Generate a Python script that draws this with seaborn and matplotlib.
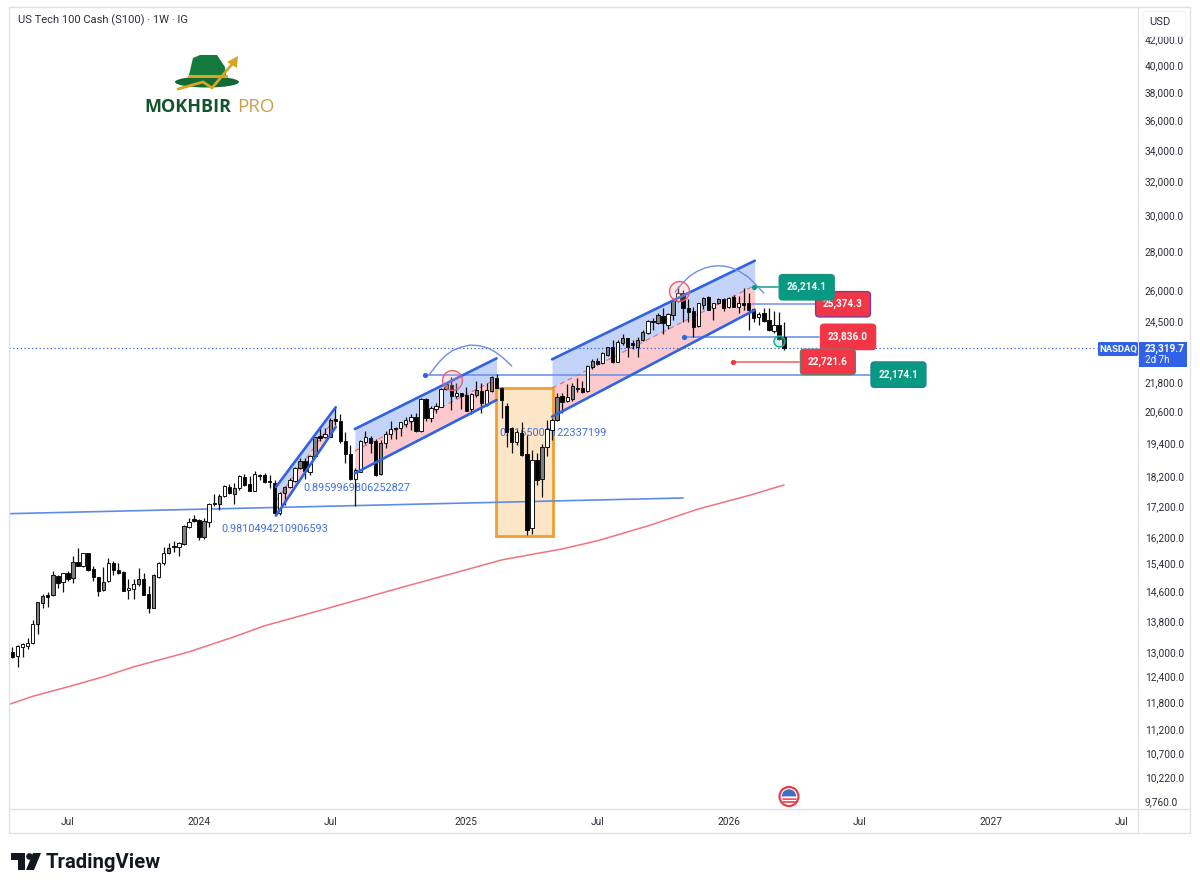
import numpy as np
import matplotlib
matplotlib.use("Agg")
import matplotlib.pyplot as plt
import seaborn as sns
from matplotlib.lines import Line2D
from matplotlib.patches import Circle, Ellipse, FancyBboxPatch, Polygon, Rectangle, Wedge
from matplotlib.transforms import Affine2D, ScaledTranslation

# weekly candles, one per week from mid April 2023
opens = [13045, 12938, 13163, 13188, 13256, 13747, 14311, 14541, 14541, 15080,
         14899, 15157, 15013, 15497, 15370, 15750, 15282, 15042, 14680, 14936,
         15451, 15253, 15204, 14680, 14708, 14842, 14984, 14560, 14191, 15060,
         15451, 15750, 15971, 15931, 16023, 16553, 16818, 16786, 16239, 16732,
         17341, 17308, 17576, 17871, 17633, 17857, 18216, 17974, 17755, 18286,
         18297, 18087, 18008, 17002, 17665, 17871, 18087, 18532, 18793, 18412,
         18974, 19713, 19686, 19686, 20355, 20301, 19538, 19033, 18147, 18412,
         19478, 19651, 19527, 18322, 19441, 19780, 20031, 20008, 20160, 20289,
         20459, 19916, 21162, 20419, 20761, 20853, 21571, 21738, 21285, 21394,
         21326, 20749, 21326, 21489, 20921, 21489, 22043, 21634, 20881, 20008,
         19501, 19817, 19047, 16521, 18829, 18147, 19293, 19943, 20328, 21285,
         21094, 21150, 21626, 21626, 21489, 22487, 22760, 22660, 23023, 23365,
         22730, 23545, 23771, 23545, 23392, 23694, 24001, 24572, 24465, 24809,
         24385, 24857, 25545, 25909, 25205, 25061, 24338, 25337, 25716, 25177,
         25418, 25630, 25226, 25748, 25255, 25418, 25418, 25129, 24748, 24937,
         24619, 24119, 24385, 23845]
highs = [13163, 13213, 13264, 13399, 13860, 14355, 14560, 14633, 15224, 15108,
         15175, 15233, 15677, 15901, 15768, 15768, 15370, 15060, 15332, 15600,
         15518, 15468, 15224, 14984, 14984, 15303, 15175, 14793, 15128, 15497,
         15931, 16072, 16124, 16102, 16626, 16840, 16948, 16818, 16840, 17331,
         17633, 17643, 17939, 17984, 18029, 18297, 18332, 18272, 18437, 18332,
         18356, 18297, 18122, 17720, 17915, 18181, 18589, 18889, 18889, 19010,
         19686, 20008, 20008, 20395, 20789, 20563, 19879, 19378, 18532, 19564,
         19905, 19728, 19602, 19564, 19905, 20289, 20069, 20261, 20459, 20552,
         20591, 21190, 21190, 20893, 20988, 21626, 21875, 22086, 21808, 21420,
         21668, 21394, 21904, 21808, 21808, 22115, 22187, 21668, 21000, 20069,
         19943, 20261, 19753, 19193, 19071, 19415, 20328, 20395, 21394, 21394,
         21768, 21834, 22018, 21917, 22586, 22846, 22877, 23142, 23392, 23694,
         23694, 23968, 23799, 23694, 23817, 24152, 24619, 24700, 24966, 25177,
         24952, 25664, 26252, 26075, 25615, 25255, 25448, 25748, 25783, 25448,
         25698, 25664, 25733, 25825, 25790, 26200, 25909, 25177, 25015, 25205,
         25177, 25048, 24986, 24539]
lows = [12888, 12668, 12920, 13105, 13239, 13494, 14174, 14201, 14521, 14745,
        14633, 14944, 14888, 15378, 15350, 15224, 14944, 14521, 14660, 14916,
        15108, 15137, 14660, 14421, 14421, 14802, 14541, 14039, 14174, 15031,
        15400, 15729, 15798, 15669, 16002, 16531, 16732, 16155, 16177, 16553,
        17242, 17110, 17552, 17643, 17308, 17778, 17915, 17755, 17734, 18122,
        18008, 17836, 16948, 16948, 17275, 17847, 18063, 18508, 18147, 18297,
        18950, 19538, 19627, 19664, 20135, 19463, 18711, 18122, 17242, 18391,
        19404, 19071, 18272, 18297, 19278, 19602, 19602, 19713, 20069, 19943,
        19856, 19879, 20301, 20261, 20591, 20829, 21530, 20721, 21190, 20749,
        20670, 20552, 21257, 20615, 20893, 21461, 21600, 20395, 19304, 19093,
        19378, 18974, 16311, 16342, 17950, 17552, 18974, 19564, 20301, 20615,
        21054, 21094, 21436, 21394, 21461, 22400, 22586, 22630, 22993, 22660,
        22703, 23469, 22949, 23275, 22949, 23662, 23968, 24152, 24418, 23968,
        24199, 24619, 25496, 24539, 24539, 23845, 24305, 25129, 25095, 24619,
        25385, 25061, 25177, 25226, 24935, 25095, 24152, 24539, 24385, 24539,
        24119, 23995, 23694, 23244]
closes = [12920, 13188, 13226, 13256, 13747, 14339, 14521, 14493, 15108, 14870,
          15157, 14984, 15497, 15378, 15750, 15253, 15042, 14660, 14916, 15451,
          15253, 15157, 14660, 14745, 14842, 14984, 14541, 14174, 15108, 15451,
          15750, 15901, 15931, 16053, 16595, 16732, 16764, 16258, 16764, 17308,
          17292, 17576, 17915, 17687, 17857, 18272, 17950, 17755, 18332, 18251,
          18043, 18043, 17022, 17687, 17891, 18122, 18532, 18793, 18447, 18974,
          19664, 19627, 19780, 20328, 20301, 19538, 19033, 18147, 18472, 19527,
          19686, 19463, 18297, 19463, 19780, 19981, 19981, 20238, 20328, 20459,
          19905, 21150, 20395, 20813, 20893, 21571, 21768, 21297, 21394, 21285,
          20693, 21353, 21530, 20988, 21530, 22086, 21625, 21122, 19867, 19501,
          19879, 19010, 16467, 18829, 18122, 19315, 19970, 20328, 21257, 21054,
          21232, 21697, 21571, 21461, 22556, 22773, 22630, 23098, 23365, 22703,
          23617, 23771, 23365, 23469, 23694, 24074, 24572, 24512, 24857, 24465,
          24904, 25580, 25940, 25177, 25015, 24305, 25418, 25698, 25095, 25418,
          25615, 25177, 25664, 25255, 25418, 25337, 25095, 24700, 24890, 24586,
          24152, 24385, 23740, 23319.7]
grey_weeks = [5, 6, 8, 12, 18, 25, 28, 31, 34, 38, 41, 44, 54, 57, 60, 63, 73, 86,
              92, 95, 105, 108, 111, 115, 118, 121, 124, 125, 128, 131, 137, 140]

# red moving average
ma_weeks = [-1, 4, 11, 18, 24, 35, 44, 50, 63, 77, 90, 97, 109, 116, 126, 136, 146, 153]
ma_values = [11778, 11974, 12193, 12430, 12668, 13038, 13420, 13706, 14191, 14745, 15260,
             15548, 15880, 16130, 16595, 17143, 17590, 17950]

# axis ticks
x_ticks = [11, 37, 63, 90, 116, 142, 168, 194, 220]
x_labels = ["Jul", "2024", "Jul", "2025", "Jul", "2026", "Jul", "2027", "Jul"]
y_ticks = [42000, 40000, 38000, 36000, 34000, 32000, 30000, 28000, 26000, 24500,
           21800, 20600, 19400, 18200, 17200, 16200, 15400, 14600, 13800, 13000,
           12400, 11800, 11200, 10700, 10220, 9760]

# drawings on the chart
long_line_weeks = [-0.5, 133]
long_line_prices = [16990, 17508]
channel_weeks = [[52.25, 64.1], [67.9, 96.0], [107, 147.2]]
channel_upper = [[17881, 20829], [19981, 22877], [22834, 27580]]
channel_mid = [[17408, 20446], [19156, 21988], [21612, 26300]]
channel_lower = [[16925, 20058], [18356, 21122], [20457, 25095]]
box_weeks = [95.9, 107.1]
box_prices = [16280, 21600]
arc1_weeks = [82.6, 83.7, 84.8, 85.9, 87.1, 88.9, 90.7, 92.5, 94.3, 95.7, 97.1, 98.0, 99.0]
arc1_prices = [22158, 22470, 22760, 23000, 23200, 23370, 23465, 23440, 23333, 23160,
               22935, 22750, 22543]
arc2_weeks = [131.4, 132.8, 134.3, 135.8, 137.3, 138.6, 139.9, 141.3, 142.7, 144.3,
              145.9, 147.4, 149.0]
arc2_prices = [25975, 26400, 26784, 27030, 27197, 27285, 27317, 27290, 27197, 27000,
               26732, 26350, 25925]
level_prices = [26214.1, 25374.3, 23836.0, 22721.6, 22174.1]
level_starts = [147.1, 146.6, 133.1, 142.9, 81.9]
level_ends = [151.9, 159.1, 159.9, 156, 170]
level_label_weeks = [157.5, 164.7, 165.7, 161.7, 175.7]
level_colors = ["#089981", "#f23645", "#f23645", "#f23645", "#089981"]
level_edges = ["#1f8f80", "#7d3c98", "#f23645", "#6b7b70", "#1f7fa0"]
level_lines = ["#26a69a", "#7f9ae8", "#6f93e8", "#ef6b6b", "#6f93e8"]
circle_weeks = [87.1, 132.1, 152]
circle_prices = [21946, 26040, 23660]
ratio_texts = ["0.9810494210906593", "0.8959969806252827", "0.1165003122337199"]
ratio_weeks = [41.5, 57.6, 96.5]
ratio_prices = [16498, 17846, 19828]

BLUE = "#2f62e6"

sns.set_theme(style="white")
plt.rcParams["font.family"] = "Roboto"

fig = plt.figure(figsize=(12, 8.9), dpi=100, facecolor="white")
ax = fig.add_axes([9 / 1200, 81 / 890, 1129 / 1200, 802 / 890])
ax.set_yscale("log")
px = Affine2D().scale(1, -1).translate(0, 890)

weeks = np.arange(len(closes))
o = np.array(opens, dtype=float)
c = np.array(closes, dtype=float)

# channels and box sit under the candles
for wk, up, mid, lo in zip(channel_weeks, channel_upper, channel_mid, channel_lower):
    ax.fill_between(wk, mid, up, color="#c3d3fa", lw=0, zorder=1)
    ax.fill_between(wk, lo, mid, color="#fcc9cd", lw=0, zorder=1)
    ax.plot(wk, mid, color="#e8707c", lw=0.9, ls=(0, (4, 3)), zorder=2)
    ax.plot(wk, up, color=BLUE, lw=1.9, zorder=5)
    ax.plot(wk, lo, color=BLUE, lw=1.9, zorder=5)

ax.add_patch(Rectangle((box_weeks[0], box_prices[0]), box_weeks[1] - box_weeks[0],
                       box_prices[1] - box_prices[0], fc="#fde6c8", ec="#f0a030",
                       lw=2, zorder=1.5))

for s, wk, pr in zip(ratio_texts, ratio_weeks, ratio_prices):
    ax.text(wk, pr, s, color="#3f6fe0", fontsize=7.8, va="center", ha="left", zorder=2.5)

# candles
colors = np.where(c >= o, "white", "black").astype(object)
colors[grey_weeks] = "#7d7d7d"
ax.vlines(weeks, lows, highs, color="#111111", lw=0.9, zorder=3)
ax.bar(weeks, np.abs(c - o), bottom=np.minimum(o, c), width=0.66, color=list(colors),
       edgecolor="#111111", lw=0.7, zorder=4)

sns.lineplot(x=ma_weeks, y=ma_values, color="#ee7480", lw=1.1, ax=ax, zorder=2)

ax.plot(long_line_weeks, long_line_prices, color="#5f8be8", lw=1.2, zorder=2.6)
ax.plot(arc1_weeks, arc1_prices, color="#6f8fe0", lw=1.0, zorder=5)
ax.plot(arc2_weeks, arc2_prices, color="#6f8fe0", lw=1.0, zorder=5)

ax.axhline(closes[-1], xmax=(1097 - 9) / 1129, color=BLUE, lw=0.9, ls=(0, (1, 2)), zorder=2)

for i, price in enumerate(level_prices):
    ax.plot([level_starts[i], level_ends[i]], [price, price], color=level_lines[i],
            lw=1.2, zorder=2.7)
    ax.text(level_label_weeks[i], price, f"{price:,.1f}", color="white", fontsize=7.2,
            fontweight="bold", ha="center", va="center", zorder=9 if i == 0 else 8,
            bbox=dict(boxstyle="round,pad=0.75,rounding_size=0.35", fc=level_colors[i],
                      ec=level_edges[i], lw=1.0))
dot_colors = {0: "#089981", 2: BLUE, 3: "#f23645", 4: BLUE}
for i, col in dot_colors.items():
    ax.scatter(level_starts[i], level_prices[i], s=14, color=col, lw=0, zorder=7)

ax.scatter(circle_weeks[:2], circle_prices[:2], s=205, facecolor="#f7a0aa44",
           edgecolor="#e5606e", lw=1.0, zorder=6)
ax.scatter(circle_weeks[2], circle_prices[2], s=62, facecolor="#7fd8c855",
           edgecolor="#22ab94", lw=1.1, zorder=6)

ax.set_xlim(-0.694, 223.2)
ax.set_ylim(9649, 44842)
ax.set_xticks(x_ticks, x_labels)
ax.set_yticks(y_ticks, [f"{v:,.1f}" for v in y_ticks])
ax.minorticks_off()
ax.yaxis.tick_right()
ax.tick_params(axis="both", length=0, colors="#2a2e39", labelsize=7.3)
ax.tick_params(axis="x", pad=6)
ax.tick_params(axis="y", pad=5)
ax.set_xlabel("")
ax.set_ylabel("")
for sp in ax.spines.values():
    sp.set_visible(False)
# price labels sit a little above their level
nudge = ScaledTranslation(0, 1.5 / 100, fig.dpi_scale_trans)
for lab in ax.get_yticklabels():
    lab.set_transform(lab.get_transform() + nudge)


def add_px(artist):
    artist.set_transform(px)
    fig.add_artist(artist)


# panel frame
frame = "#e0e3eb"
for xs, ys in [([9, 1190], [7, 7]), ([9, 1190], [833, 833]), ([9, 9], [7, 833]),
               ([1190, 1190], [7, 833]), ([9, 1190], [809, 809]), ([1138, 1138], [7, 833])]:
    add_px(Line2D(xs, ys, color=frame, lw=1.0))

fig.text(18, 20, "US Tech 100 Cash (S100) · 1W · IG", transform=px, fontsize=8.0,
         color="#2a2e39", va="center")

# USD button covers the top tick
add_px(FancyBboxPatch((1143, 11), 43, 25.5, boxstyle="round,pad=0,rounding_size=3",
                      fc="white", ec="#f0f1f4", lw=0.8, zorder=6))
fig.text(1160, 22, "USD", transform=px, fontsize=8, color="#2a2e39", ha="center",
         va="center", zorder=7)

# last price tags
add_px(FancyBboxPatch((1098, 342), 40, 14, boxstyle="round,pad=0,rounding_size=1.5",
                      fc=BLUE, ec="none", zorder=6))
fig.text(1118, 349, "NASDAQ", transform=px, fontsize=6.8, fontweight="bold", color="white",
         ha="center", va="center", zorder=7)
add_px(Rectangle((1139, 342), 48, 25, fc=BLUE, ec="none", zorder=6))
fig.text(1145, 348.5, f"{closes[-1]:,.1f}", transform=px, fontsize=7.3, fontweight="bold",
         color="white", va="center", zorder=7)
fig.text(1145, 360, "2d 7h", transform=px, fontsize=7.0, color="white", va="center", zorder=7)

# logo
add_px(Ellipse((207, 82), 64, 11, fc="#0f6a35", ec="none", zorder=3))
add_px(Polygon([(189, 75), (193, 58), (200, 55), (217, 55), (225, 67), (226, 75)],
               fc="#127a3c", ec="none", zorder=3))
add_px(Line2D([189, 226], [75.5, 75.5], color="#d9a520", lw=2.2, zorder=4))
add_px(Line2D([178, 203, 212, 233], [89, 82, 88, 63], color="#d9a520", lw=2.0, zorder=4))
add_px(Polygon([(238, 56), (237, 68), (227, 62)], fc="#d9a520", ec="none", zorder=4))
fig.text(144, 107, "MOKHBIR", transform=px, fontsize=13.0, fontweight="bold", color="#14532d",
         family="Open Sans", va="center")
fig.text(237, 107, "PRO", transform=px, fontsize=13.5, color="#c9a24a", family="Open Sans",
         va="center")

# calendar flag marker
add_px(Circle((789, 796.5), 9.5, fc="white", ec="#e4404a", lw=1.6, zorder=5))
add_px(Wedge((789, 796.5), 7.2, 180, 360, fc="#3f6fc0", ec="none", zorder=6))
for yy in [798.5, 801.5]:
    add_px(Line2D([782.5, 795.5], [yy, yy], color="#e4404a", lw=1.2, zorder=7))
add_px(Line2D([783, 795], [796.5, 796.5], color="white", lw=1.0, zorder=7))

# TradingView mark
add_px(Polygon([(11, 853), (25, 853), (25, 870), (18, 870), (18, 860), (11, 860)],
               fc="#131722", ec="none"))
add_px(Circle((29.5, 856.5), 3.3, fc="#131722", ec="none"))
add_px(Polygon([(33, 853), (41, 853), (34, 870), (26, 870)], fc="#131722", ec="none"))
fig.text(46, 862, "TradingView", transform=px, fontsize=14.6, fontweight="bold", color="#131722",
         va="center")

fig.savefig("out.png", dpi=100)
